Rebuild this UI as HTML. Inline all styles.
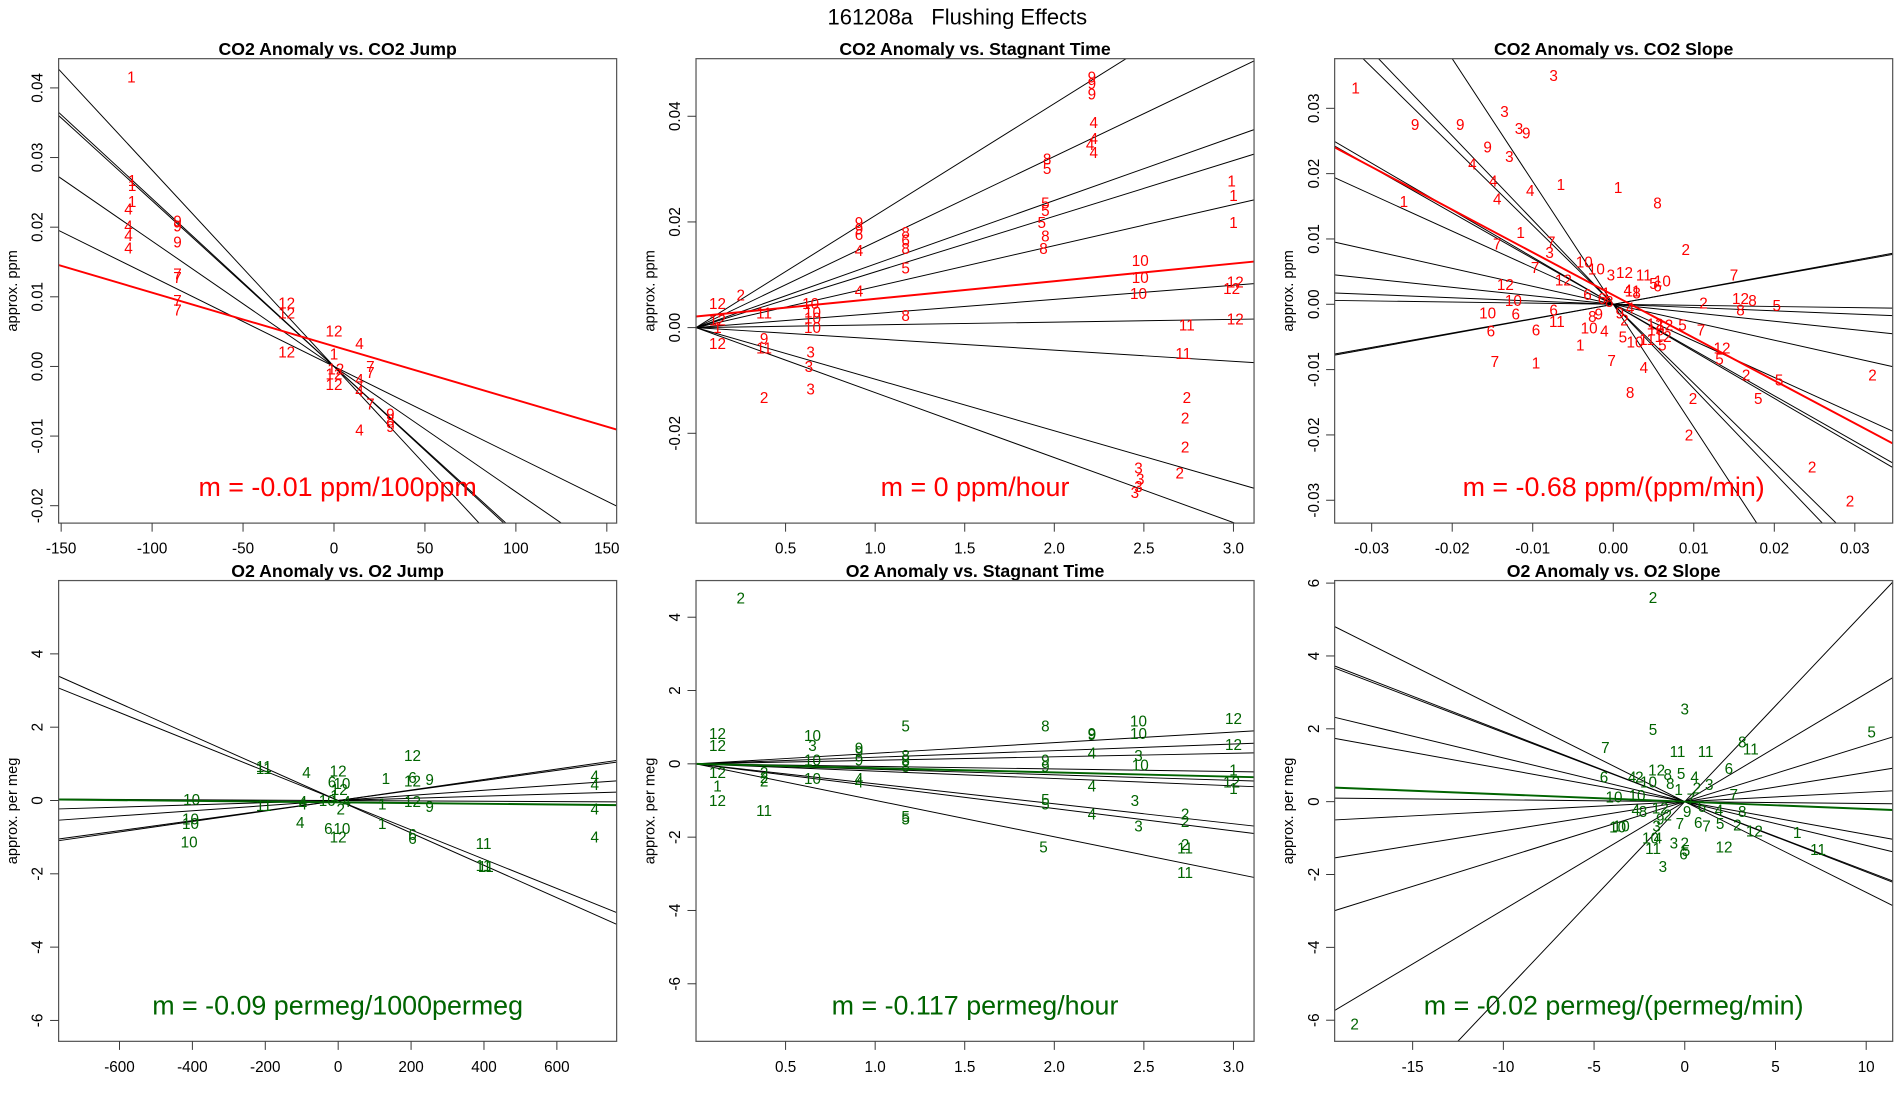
<!DOCTYPE html>
<html><head><meta charset="utf-8"><style>
html,body{margin:0;padding:0;background:#fff;overflow:hidden;width:1900px;height:1100px;}
svg{display:block;font-family:"Liberation Sans",Arial,sans-serif;}
</style></head><body>
<svg id="chart" width="1900" height="1100" viewBox="0 0 1556 900" preserveAspectRatio="none" xmlns="http://www.w3.org/2000/svg">
<text x="784" y="20" text-anchor="middle" font-size="18" xml:space="preserve" style="white-space:pre">161208a   Flushing Effects</text>
</svg>
<script>
// ---------- DATA ----------
const p1Pts=[["1",-111.4,0.0416],["1",-111,0.0267],["1",-111,0.026],["1",-111,0.0237],["4",-113,0.0226],["4",-113,0.0202],["4",-113,0.0188],["4",-113,0.017],["9",-86,0.0209],["9",-86,0.0202],["9",-86,0.0179],["7",-86,0.0133],["7",-86,0.0128],["7",-86,0.0095],["7",-86,0.0081],["12",-26,0.0091],["12",-26,0.0077],["12",-26,0.0021],["12",0,0.0051],["4",14,0.0033],["1",0,0.0018],["12",1,-0.0004],["12",0,-0.0011],["12",0,-0.0026],["7",20,0],["7",20,-0.0009],["4",14,-0.0019],["4",14,-0.0035],["7",20,-0.0054],["9",31,-0.0068],["8",31,-0.0077],["9",31,-0.0086],["4",14,-0.0091]];
const p1Slopes=[-2.82e-4,-2.41e-4,-2.38e-4,-1.8e-4,-1.29e-4];
const p1Fit=[-7.7e-5,0.0029];
const p1XTicks=["-150","-100","-50","0","50","100","150"];
const p1YTicks=["-0.02","-0.01","0.00","0.01","0.02","0.03","0.04"];

const p2Pts=[["9",2.21,0.0474],["9",2.21,0.0462],["9",2.21,0.0442],["4",2.22,0.0388],["4",2.22,0.0358],["4",2.2,0.0347],["4",2.22,0.0331],["8",1.96,0.0319],["5",1.96,0.0301],["5",1.95,0.0236],["5",1.95,0.0222],["5",1.93,0.0199],["8",1.95,0.0173],["8",1.94,0.015],["9",0.91,0.0199],["9",0.91,0.0187],["6",0.91,0.0176],["4",0.91,0.0146],["8",1.17,0.018],["6",1.17,0.0166],["8",1.17,0.015],["5",1.17,0.0113],["4",0.91,0.0069],["1",2.99,0.0277],["1",3.0,0.025],["1",3.0,0.0199],["10",2.48,0.0127],["10",2.48,0.0095],["10",2.47,0.0065],["12",3.01,0.0086],["12",2.99,0.0074],["12",3.01,0.0016],["11",2.74,0.0005],["11",2.72,-0.0049],["2",2.74,-0.0132],["2",2.73,-0.0171],["2",2.73,-0.0226],["2",2.7,-0.0275],["3",2.47,-0.0266],["3",2.48,-0.0287],["3",2.47,-0.0301],["3",2.45,-0.0312],["2",0.25,0.0062],["12",0.12,0.0046],["11",0.38,0.0028],["10",0.64,0.0046],["10",0.65,0.003],["10",0.65,0.0018],["10",0.65,0],["8",1.17,0.0023],["12",0.12,0.0014],["1",0.12,0],["12",0.12,-0.003],["9",0.38,-0.0021],["11",0.38,-0.0039],["3",0.64,-0.0046],["3",0.63,-0.0074],["3",0.64,-0.0116],["2",0.38,-0.0132]];
const p2Slopes=[0.0212,0.0162,0.01203,0.01054,0.00776,0.00267,0.00052,-0.00213,-0.00976,-0.0123];
const p2Fit=[0.00334,0.0021];
const p2XTicks=["0.5","1.0","1.5","2.0","2.5","3.0"];
const p2YTicks=["-0.02","0.00","0.02","0.04"];

const p3Pts=[["1",-0.032,0.0331],["3",-0.0074,0.035],["9",-0.0246,0.0275],["9",-0.019,0.0275],["3",-0.0135,0.0295],["3",-0.0117,0.0269],["9",-0.0108,0.0262],["9",-0.0156,0.0241],["3",-0.0129,0.0226],["4",-0.0175,0.0215],["4",-0.0149,0.0189],["4",-0.0103,0.0174],["1",-0.0065,0.0183],["1",0.0006,0.0179],["8",0.0055,0.0155],["4",-0.0144,0.0161],["1",-0.026,0.0157],["1",-0.0115,0.011],["7",-0.0077,0.0095],["3",-0.0079,0.0079],["7",-0.0144,0.0092],["7",-0.0097,0.0056],["2",0.009,0.0084],["10",-0.0036,0.0065],["10",-0.0021,0.0054],["3",-0.0003,0.0045],["12",0.0014,0.0049],["11",0.0038,0.0045],["10",0.0061,0.0036],["12",-0.0062,0.0037],["12",-0.0134,0.003],["10",-0.0124,0.0006],["6",-0.0032,0.0015],["10",-0.0156,-0.0013],["6",-0.0121,-0.0015],["6",-0.0152,-0.0041],["6",-0.0074,-0.0009],["11",-0.007,-0.0026],["6",-0.0096,-0.0039],["7",-0.0147,-0.0088],["1",-0.0096,-0.009],["1",-0.0041,-0.0062],["7",-0.0002,-0.0086],["4",0.0038,-0.0097],["8",0.0021,-0.0135],["2",0.0112,0.0002],["7",0.015,0.0045],["12",0.0158,0.0009],["8",0.0173,0.0006],["5",0.0203,-0.0002],["8",0.0158,-0.0009],["7",0.0109,-0.0039],["5",0.0086,-0.0032],["12",0.0135,-0.0067],["5",0.0132,-0.0084],["5",0.0206,-0.0116],["2",0.0165,-0.0108],["5",0.018,-0.0144],["2",0.0099,-0.0144],["2",0.0094,-0.02],["2",0.0247,-0.0249],["2",0.0322,-0.0108],["2",0.0294,-0.0301],["10",0.0027,-0.0058],["11",0.0042,-0.0054],["5",0.0061,-0.0062],["12",0.0064,-0.0032],["4",-0.0011,-0.0041],["10",-0.003,-0.0036],["9",-0.0018,-0.0015],["8",-0.0026,-0.0019],["1",-0.0009,0.0017],["8",-0.0005,0.0004],["4",0.0018,0.0022],["11",0.0024,0.002],["8",0.0029,0.0017],["5",0.005,0.0032],["6",0.0055,0.0028],["9",0.0008,-0.0013],["2",0.0014,-0.0024],["4",0.0021,-0.0006],["6",-0.0014,0.0009],["12",0.0052,-0.003],["10",0.0053,-0.0039],["12",0.0062,-0.0049],["5",0.0012,-0.005]];
const p3Slopes=[-1.21,-1.29,-1.88,-0.72,-0.70,-0.56,-0.275,-0.13,-0.05,-0.017,0.22,0.225];
const p3Fit=[-0.654,0.0014];
const p3XTicks=["-0.03","-0.02","-0.01","0.00","0.01","0.02","0.03"];
const p3YTicks=["-0.03","-0.02","-0.01","0.00","0.01","0.02","0.03"];

const p4Pts=[["10",-402,0.03],["10",-405,-0.5],["10",-405,-0.63],["10",-409,-1.13],["11",-204,0.93],["11",-204,0.87],["11",-204,-0.13],["4",-87,0.77],["4",-97,-0.03],["4",-97,-0.1],["4",-104,-0.6],["12",0,0.8],["6",-17,0.5],["10",10,0.47],["12",3,0.3],["1",-10,0.13],["10",-30,0],["4",23,-0.03],["2",7,-0.23],["6",-27,-0.77],["10",10,-0.77],["12",0,-1.0],["1",131,0.6],["1",121,-0.1],["1",121,-0.63],["12",204,1.23],["12",204,0.53],["12",204,-0.03],["6",204,0.63],["6",204,-0.93],["6",204,-1.03],["9",251,0.57],["9",251,-0.17],["4",704,0.67],["4",704,0.43],["4",704,-0.23],["4",704,-1.0],["11",399,-1.17],["11",399,-1.77],["11",405,-1.8]];
const p4Slopes=[-0.00442,-0.004,0.00137,0.00143,0.0007,0.0003,-0.00005];
const p4Fit=[-0.0001,-0.05];
const p4XTicks=["-600","-400","-200","0","200","400","600"];
const p4YTicks=["-6","-4","-2","0","2","4"];

const p5Pts=[["2",0.25,4.53],["12",0.12,0.83],["12",0.12,0.5],["1",0.12,-0.6],["12",0.12,-0.23],["12",0.12,-1.0],["11",0.38,-1.27],["2",0.38,-0.23],["2",0.38,-0.37],["2",0.38,-0.47],["10",0.65,0.77],["3",0.65,0.5],["10",0.65,0.1],["10",0.65,-0.4],["9",0.91,0.43],["9",0.91,0.33],["9",0.91,0.1],["4",0.91,-0.4],["4",0.91,-0.5],["5",1.17,1.03],["8",1.17,0.23],["8",1.17,0.1],["8",1.17,-0.07],["5",1.17,-1.43],["5",1.17,-1.5],["8",1.95,1.03],["9",1.95,0.1],["9",1.95,-0.07],["5",1.95,-0.97],["5",1.95,-1.1],["5",1.94,-2.27],["9",2.21,0.83],["9",2.21,0.8],["4",2.21,0.3],["4",2.21,-0.6],["4",2.21,-1.37],["10",2.47,1.17],["10",2.47,0.83],["3",2.47,0.23],["10",2.48,-0.03],["3",2.45,-1.0],["3",2.47,-1.7],["12",3.0,1.23],["12",3.0,0.53],["1",3.0,-0.17],["12",2.99,-0.5],["1",3.0,-0.67],["2",2.73,-1.37],["2",2.73,-1.57],["2",2.73,-2.2],["11",2.73,-2.3],["11",2.73,-2.97]];
const p5Slopes=[0.289,0.18,0.096,-0.07,-0.15,-0.2,-0.545,-0.61,-0.995];
const p5Fit=[-0.117,0];
const p5XTicks=["0.5","1.0","1.5","2.0","2.5","3.0"];
const p5YTicks=["-6","-4","-2","0","2","4"];

const p6Pts=[["2",-1.75,5.6],["2",-18.2,-6.1],["3",0,2.55],["5",-1.75,1.98],["7",-4.38,1.48],["11",-0.4,1.38],["11",1.15,1.38],["11",3.64,1.44],["8",3.17,1.64],["5",10.3,1.91],["6",2.43,0.91],["6",-4.45,0.67],["7",2.7,0.2],["8",3.17,-0.27],["4",1.89,-0.23],["5",1.95,-0.6],["2",2.9,-0.64],["12",3.84,-0.8],["1",6.2,-0.84],["11",7.35,-1.31],["12",2.16,-1.24],["10",-3.9,0.13],["10",-2.63,0.17],["10",-3.7,-0.7],["10",-3.5,-0.67],["11",-1.75,-1.28],["10",-1.89,-1.0],["4",-1.48,-1.0],["3",-1.21,-1.78],["3",-0.6,-1.14],["2",0,-1.14],["6",-0.07,-1.44],["5",0.07,-1.34],["12",-1.55,0.87],["8",-0.94,0.74],["4",-2.9,0.67],["2",-2.5,0.67],["10",-2.0,0.54],["5",-0.2,0.77],["4",0.54,0.67],["8",-0.8,0.5],["1",-0.34,0.34],["3",1.35,0.47],["2",0.67,0.37],["7",0.34,0.07],["6",0.94,-0.13],["9",0.13,-0.27],["12",-1.35,-0.17],["4",-2.7,-0.23],["8",-2.3,-0.27],["9",-1.35,-0.47],["7",-0.27,-0.6],["6",0.74,-0.57],["7",1.2,-0.67],["2",-0.94,-0.37],["3",-1.55,-0.67]];
const p6Slopes=[-0.249,-0.193,-0.19,-0.12,-0.09,-0.005,0.026,0.08,0.155,0.297,0.526];
const p6Fit=[-0.02,0];
const p6XTicks=["-15","-10","-5","0","5","10"];
const p6YTicks=["-6","-4","-2","0","2","4","6"];

// ---------- DRAW ----------
const NS="http://www.w3.org/2000/svg";
const svg=document.getElementById("chart");
function el(tag,attrs,parent){const e=document.createElementNS(NS,tag);for(const k in attrs)e.setAttribute(k,attrs[k]);(parent||svg).appendChild(e);return e;}

function panel(id,title,ylab,box,dom,pts,slopes,fit,xt,yt,color,note){
  const g=el("g",{});
  
  
  const [bx0,by0,bx1,by1]=box,[xmin,xmax,ymin,ymax]=dom;
  const sx=v=>bx0+(v-xmin)/(xmax-xmin)*(bx1-bx0);
  const sy=v=>by1-(v-ymin)/(ymax-ymin)*(by1-by0);
  const cp=el("clipPath",{id:"c-"+id},g);
  el("rect",{x:bx0,y:by0,width:bx1-bx0,height:by1-by0},cp);
  const t=el("text",{x:(bx0+bx1)/2,y:by0-3,"text-anchor":"middle","font-size":"14.5","font-weight":"bold"},g);
  t.textContent=title;
  
  
  const yl=el("text",{transform:`translate(${bx0-34},${(by0+by1)/2}) rotate(-90)`,"text-anchor":"middle","font-size":"12"},g);
  yl.textContent=ylab;
  
  
  const lines=el("g",{"clip-path":`url(#c-${id})`},g);
  slopes.forEach(s=>{
    const l=el("line",{x1:sx(xmin),y1:sy(s*xmin),x2:sx(xmax),y2:sy(s*xmax),stroke:"#000","stroke-width":"0.8"},lines);
    
    
  });
  const f=el("line",{x1:sx(xmin),y1:sy(fit[0]*xmin+fit[1]),x2:sx(xmax),y2:sy(fit[0]*xmax+fit[1]),stroke:color,"stroke-width":"1.6"},lines);
  
  
  pts.forEach(p=>{
    const tx=el("text",{x:sx(p[1]),y:sy(p[2])+4.5,"text-anchor":"middle","font-size":"12.5",fill:color},lines);
    tx.textContent=p[0];
    
    
  });
  const fr=el("rect",{x:bx0,y:by0,width:bx1-bx0,height:by1-by0,fill:"none",stroke:"#555","stroke-width":"1"},g);
  
  
  xt.forEach(s=>{const v=parseFloat(s),x=sx(v);
    el("line",{x1:x,y1:by1,x2:x,y2:by1+7,stroke:"#333","stroke-width":"0.8"},g);
    const tx=el("text",{x:x,y:by1+25,"text-anchor":"middle","font-size":"12.5"},g);
    tx.textContent=s;
    
    
  });
  yt.forEach(s=>{const v=parseFloat(s),y=sy(v);
    el("line",{x1:bx0,y1:y,x2:bx0-7,y2:y,stroke:"#333","stroke-width":"0.8"},g);
    const tx=el("text",{transform:`translate(${bx0-13},${y}) rotate(-90)`,"text-anchor":"middle","font-size":"12.5"},g);
    tx.textContent=s;
    
    
  });
  const n=el("text",{x:(bx0+bx1)/2,y:by1-22,"text-anchor":"middle","font-size":"22",fill:color},g);
  n.textContent=note;
  
  
}
const R="#ff0000",G="#006400";
panel("co2-jump-panel","CO2 Anomaly vs. CO2 Jump","approx. ppm",[48,48,505,428],[-151.4,155.4,-0.0225,0.0442],p1Pts,p1Slopes,p1Fit,p1XTicks,p1YTicks,R,"m = -0.01 ppm/100ppm");
panel("co2-stagnant-panel","CO2 Anomaly vs. Stagnant Time","approx. ppm",[570,48,1027,428],[0,3.115,-0.037,0.0509],p2Pts,p2Slopes,p2Fit,p2XTicks,p2YTicks,R,"m = 0 ppm/hour");
panel("co2-slope-panel","CO2 Anomaly vs. CO2 Slope","approx. ppm",[1093,48,1550,428],[-0.0346,0.0347,-0.0335,0.0376],p3Pts,p3Slopes,p3Fit,p3XTicks,p3YTicks,R,"m = -0.68 ppm/(ppm/min)");
panel("o2-jump-panel","O2 Anomaly vs. O2 Jump","approx. per meg",[48,475,505,852],[-767,764,-6.57,6],p4Pts,p4Slopes,p4Fit,p4XTicks,p4YTicks,G,"m = -0.09 permeg/1000permeg");
panel("o2-stagnant-panel","O2 Anomaly vs. Stagnant Time","approx. per meg",[570,475,1027,852],[0,3.115,-7.57,5],p5Pts,p5Slopes,p5Fit,p5XTicks,p5YTicks,G,"m = -0.117 permeg/hour");
panel("o2-slope-panel","O2 Anomaly vs. O2 Slope","approx. per meg",[1093,475,1550,852],[-19.3,11.46,-6.58,6.07],p6Pts,p6Slopes,p6Fit,p6XTicks,p6YTicks,G,"m = -0.02 permeg/(permeg/min)");
</script>
</body></html>
